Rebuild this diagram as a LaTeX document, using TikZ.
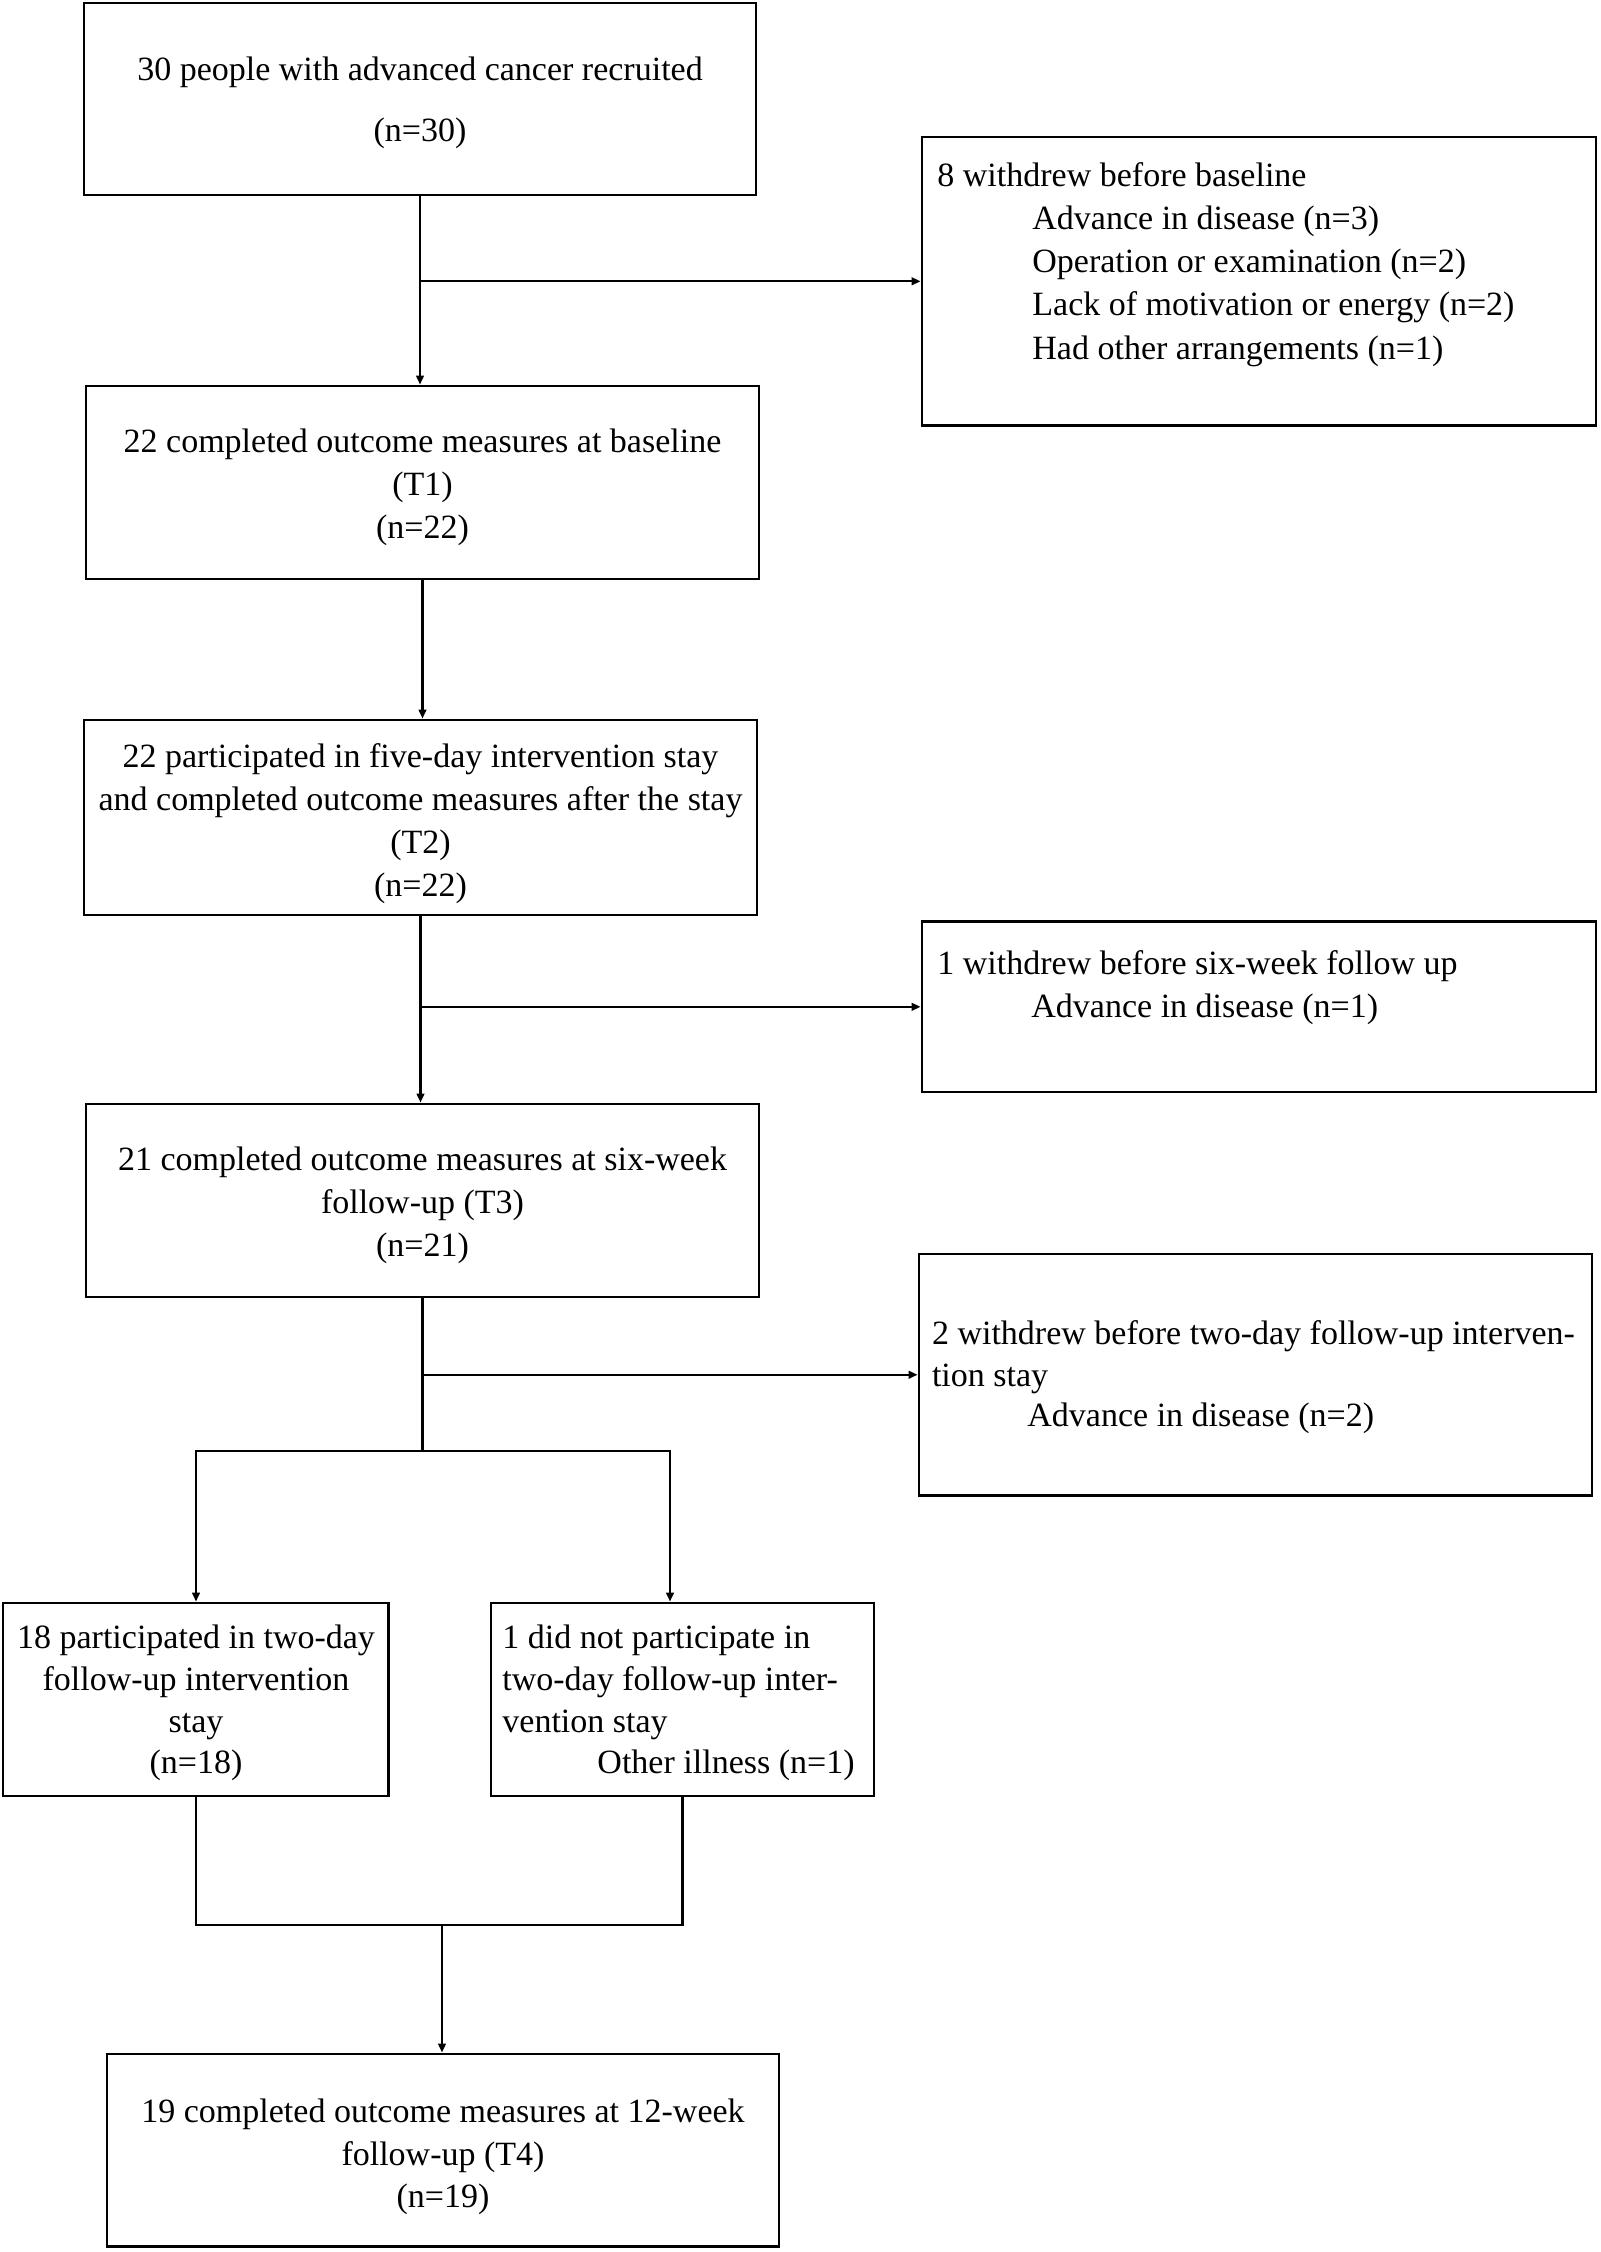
\documentclass[tikz,border=0pt]{standalone}
\usepackage{fontspec}
\setmainfont{Liberation Serif}
\usetikzlibrary{arrows.meta}
\begin{document}
\begin{tikzpicture}[x=0.5pt,y=-0.5pt,
  box/.style={draw, line width=1.4pt, rectangle, inner sep=0pt},
  txt/.style={inner sep=0pt, anchor=base, font=\fontsize{17pt}{21pt}\selectfont},
  txtl/.style={txt, anchor=base west},
  txtr/.style={txt, anchor=base east},
  conn/.style={line width=1.2pt, line cap=rect},
  arr/.style={line width=1.2pt, -{Triangle[length=4.5pt,width=3.8pt]}}]
\useasboundingbox (0,0) rectangle (1600,2252);
\fill[white] (0,0) rectangle (1600,2252);

% boxes
\node[box, minimum width=336pt, minimum height=96pt] (b1) at (420,99) {};
\node[box, minimum width=336.5pt, minimum height=96.5pt] (b2) at (422.5,482.5) {};
\node[box, minimum width=336.5pt, minimum height=97.5pt] (b3) at (420.5,817.5) {};
\node[box, minimum width=336.5pt, minimum height=96.5pt] (b4) at (422.5,1200.5) {};
\node[box, minimum width=337pt, minimum height=144.3pt] (w1) at (1259,281.3) {};
\node[box, minimum width=337pt, minimum height=85.25pt] (w2) at (1259,1006.8) {};
\node[box, minimum width=336.5pt, minimum height=120.75pt] (w3) at (1255.5,1374.75) {};
\node[box, minimum width=192.8pt, minimum height=96.5pt] (b5) at (195.8,1699.5) {};
\node[box, minimum width=191.5pt, minimum height=96.5pt] (b6) at (682.5,1699.5) {};
\node[box, minimum width=336pt, minimum height=96.35pt] (b7) at (443,2150.3) {};

% texts
\node[txt] (t1a) at (420,81) {30 people with advanced cancer recruited};
\node[txt] (t1b) at (420,142) {(n=30)};

\node[txt] (t2a) at (422.5,452) {22 completed outcome measures at baseline};
\node[txt] (t2b) at (422.5,495) {(T1)};
\node[txt] (t2c) at (422.5,538) {(n=22)};

\node[txt] (t3a) at (420.5,767) {22 participated in five-day intervention stay};
\node[txt] (t3b) at (420.5,810) {and completed outcome measures after the stay};
\node[txt] (t3c) at (420.5,853) {(T2)};
\node[txt] (t3d) at (420.5,896) {(n=22)};

\node[txt] (t4a) at (422.5,1170) {21 completed outcome measures at six-week};
\node[txt] (t4b) at (422.5,1213) {follow-up (T3)};
\node[txt] (t4c) at (422.5,1256) {(n=21)};

\node[txtl] (tw1a) at (937,187) {8 withdrew before baseline};
\node[txtl] (tw1b) at (1032,230) {Advance in disease (n=3)};
\node[txtl] (tw1c) at (1032,273) {Operation or examination (n=2)};
\node[txtl] (tw1d) at (1032,316) {Lack of motivation or energy (n=2)};
\node[txtl] (tw1e) at (1032,359) {Had other arrangements (n=1)};

\node[txtl] (tw2a) at (937,974.5) {1 withdrew before six-week follow up};
\node[txtl] (tw2b) at (1031,1017) {Advance in disease (n=1)};

\node[txtl] (tw3a) at (931.6,1344) {2 withdrew before two-day follow-up interven-};
\node[txtl] (tw3b) at (931.6,1386) {tion stay};
\node[txtl] (tw3c) at (1027,1426) {Advance in disease (n=2)};

\node[txt] (t5a) at (196,1648) {18 participated in two-day};
\node[txt] (t5b) at (196,1690) {follow-up intervention};
\node[txt] (t5c) at (196,1732) {stay};
\node[txt] (t5d) at (196,1773) {(n=18)};

\node[txtl] (t6a) at (502,1648) {1 did not participate in};
\node[txtl] (t6b) at (502,1690) {two-day follow-up inter-};
\node[txtl] (t6c) at (502,1732) {vention stay};
\node[txtr] (t6d) at (855,1773) {Other illness (n=1)};

\node[txt] (t7a) at (443,2122) {19 completed outcome measures at 12-week};
\node[txt] (t7b) at (443,2165) {follow-up (T4)};
\node[txt] (t7c) at (443,2207) {(n=19)};

% connectors
\draw[arr] (b1.south) -- (b1.south |- b2.north);
\draw[arr] (b1.south |- w1.west) -- (w1.west);

\draw[arr] (b2.south) -- (b2.south |- b3.north);

\draw[arr] (b3.south) -- (b3.south |- b4.north);
\draw[arr] (b3.south |- w2.west) -- (w2.west);

\coordinate (fk) at (422.5,1451);
\coordinate (fkl) at (196,1451);
\coordinate (fkr) at (670,1451);
\draw[conn] (b4.south) -- (fk);
\draw[arr] (b4.south |- w3.west) -- (w3.west);
\draw[conn] (fkl) -- (fkr);
\draw[arr] (fkl) -- (fkl |- b5.north);
\draw[arr] (fkr) -- (fkr |- b6.north);

\coordinate (jn) at (442,1925);
\draw[conn] (b5.south) -- (b5.south |- jn) -- (b6.south |- jn) -- (b6.south);
\draw[arr] (jn) -- (jn |- b7.north);
\end{tikzpicture}
\end{document}
